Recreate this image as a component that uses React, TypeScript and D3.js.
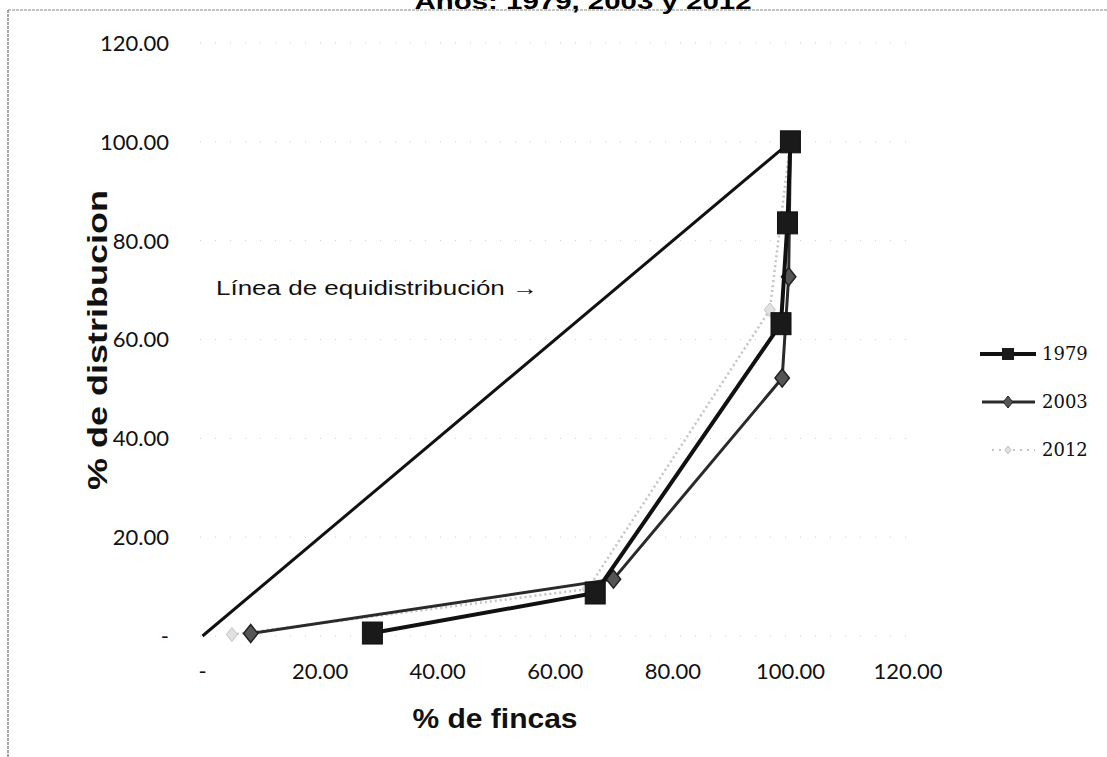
import React from "react";
import * as d3 from "d3";

const xTicks = [0, 20, 40, 60, 80, 100, 120];
const yTicks = [0, 20, 40, 60, 80, 100, 120];
const seriesNames = ["1979", "2003", "2012"];
const fincas1979 = [28.9, 66.8, 98.4, 99.5, 100];
const dist1979 = [0.6, 8.7, 63.2, 83.6, 100];
const fincas2003 = [8.2, 69.9, 98.6, 99.7, 100];
const dist2003 = [0.5, 11.5, 52.2, 72.7, 100];
const fincas2012 = [5.0, 65.5, 96.5, 100];
const dist2012 = [0.3, 9.5, 66.0, 100];
const equiX = [0, 100];
const equiY = [0, 100];

const W = 1107;
const H = 757;

export default function App() {
  const x = d3.scaleLinear().domain([0, 120]).range([202.5, 908]);
  const y = d3.scaleLinear().domain([0, 120]).range([636, 43]);
  const line = d3
    .line<[number, number]>()
    .x((d) => x(d[0]))
    .y((d) => y(d[1]));
  const zip = (a: number[], b: number[]) => a.map((v, i) => [v, b[i]] as [number, number]);
  const s1979 = zip(fincas1979, dist1979);
  const s2003 = zip(fincas2003, dist2003);
  const s2012 = zip(fincas2012, dist2012);
  const equi = zip(equiX, equiY);
  const fmt = (v: number) => (v === 0 ? "-" : d3.format(".2f")(v));
  const tickFont = "Lato, 'Open Sans', sans-serif";
  const diamond = (cx: number, cy: number, r: number) =>
    `M${cx},${cy - r}L${cx + r * 0.8},${cy}L${cx},${cy + r}L${cx - r * 0.8},${cy}Z`;

  return (
    <svg
      width={W}
      height={H}
      style={{ position: "absolute", left: 0, top: 0, background: "#fff" }}
    >
      {/* frame */}
      <line x1={8} x2={W} y1={10} y2={10} stroke="#888" strokeWidth={1} strokeDasharray="3,1" />
      <line x1={8} x2={8} y1={10} y2={H} stroke="#888" strokeWidth={1.5} strokeDasharray="3,1" />
      {/* title (clipped at top) */}
      <text
        x={583}
        y={9}
        textAnchor="middle"
        fontFamily="'Liberation Sans', Arial, sans-serif"
        fontWeight="bold"
        fontSize={22}
        textLength={337}
        lengthAdjust="spacingAndGlyphs"
        fill="#000"
      >
        Años: 1979, 2003 y 2012
      </text>
      {/* gridlines */}
      {yTicks.map((t) => (
        <line
          key={"g" + t}
          x1={200}
          x2={910}
          y1={y(t)}
          y2={y(t)}
          stroke="#d0d0d0"
          strokeWidth={1}
          strokeDasharray="1,14"
        />
      ))}
      {/* y tick labels */}
      {yTicks.map((t) => (
        <text
          key={"y" + t}
          x={169}
          y={y(t)}
          dy="0.36em"
          textAnchor="end"
          fontFamily={tickFont}
          fontSize={22}
          fill="#111"
        >
          {fmt(t)}
        </text>
      ))}
      {/* x tick labels */}
      {xTicks.map((t) => (
        <text
          key={"x" + t}
          x={x(t)}
          y={671}
          dy="0.36em"
          textAnchor="middle"
          fontFamily={tickFont}
          fontSize={22}
          fill="#111"
        >
          {fmt(t)}
        </text>
      ))}
      {/* axis titles */}
      <text
        x={495}
        y={728}
        textAnchor="middle"
        fontFamily="'Liberation Sans', Arial, sans-serif"
        fontWeight="bold"
        fontSize={28}
        textLength={165}
        lengthAdjust="spacingAndGlyphs"
        fill="#111"
      >
        % de fincas
      </text>
      <text
        transform={`translate(107,340) rotate(-90)`}
        textAnchor="middle"
        fontFamily="'Liberation Sans', Arial, sans-serif"
        fontWeight="bold"
        fontSize={28}
        textLength={300}
        lengthAdjust="spacingAndGlyphs"
        fill="#111"
      >
        % de distribucion
      </text>
      {/* annotation */}
      <text
        x={216}
        y={295}
        fontFamily="'Liberation Sans', Arial, sans-serif"
        fontSize={20}
        textLength={322}
        lengthAdjust="spacingAndGlyphs"
        fill="#111"
      >
        Línea de equidistribución →
      </text>
      {/* equidistribution line */}
      <path d={line(equi) || ""} fill="none" stroke="#111" strokeWidth={3} />
      {/* 2012 */}
      <path
        d={line(s2012) || ""}
        fill="none"
        stroke="#c4c4c4"
        strokeWidth={2.5}
        strokeDasharray="2,3"
      />
      {s2012.map((d, i) => (
        <path key={"m12" + i} d={diamond(x(d[0]), y(d[1]), 7)} fill="#e0e0e0" stroke="#c4c4c4" strokeWidth={1} />
      ))}
      {/* 2003 */}
      <path d={line(s2003) || ""} fill="none" stroke="#2a2a2a" strokeWidth={3} />
      {s2003.map((d, i) => (
        <path key={"m03" + i} d={diamond(x(d[0]), y(d[1]), 9)} fill="#555" stroke="#222" strokeWidth={1.5} />
      ))}
      {/* 1979 */}
      <path d={line(s1979) || ""} fill="none" stroke="#111" strokeWidth={4} />
      {s1979.map((d, i) => (
        <rect
          key={"m79" + i}
          x={x(d[0]) - 10}
          y={y(d[1]) - 11}
          width={20}
          height={22}
          fill="#1a1a1a"
          stroke="#111"
          strokeWidth={1}
        />
      ))}
      {/* legend */}
      {seriesNames.map((name, i) => {
        const ly = 354 + i * 48;
        return (
          <g key={"l" + name}>
            {i === 0 && (
              <>
                <line x1={980} x2={1036} y1={ly} y2={ly} stroke="#111" strokeWidth={4} />
                <rect x={1002} y={ly - 6} width={12} height={12} fill="#1a1a1a" />
              </>
            )}
            {i === 1 && (
              <>
                <line x1={982} x2={1035} y1={ly} y2={ly} stroke="#2a2a2a" strokeWidth={3} />
                <path d={diamond(1008, ly, 6)} fill="#555" stroke="#222" strokeWidth={1} />
              </>
            )}
            {i === 2 && (
              <>
                <line x1={992} x2={1035} y1={ly} y2={ly} stroke="#c4c4c4" strokeWidth={2} strokeDasharray="2,5" />
                <path d={diamond(1008, ly, 4)} fill="#e0e0e0" stroke="#c4c4c4" strokeWidth={1} />
              </>
            )}
            <text
              x={1042}
              y={ly}
              dy="0.36em"
              fontFamily="'DejaVu Serif', serif"
              fontSize={18}
              fill="#111"
            >
              {name}
            </text>
          </g>
        );
      })}
    </svg>
  );
}
